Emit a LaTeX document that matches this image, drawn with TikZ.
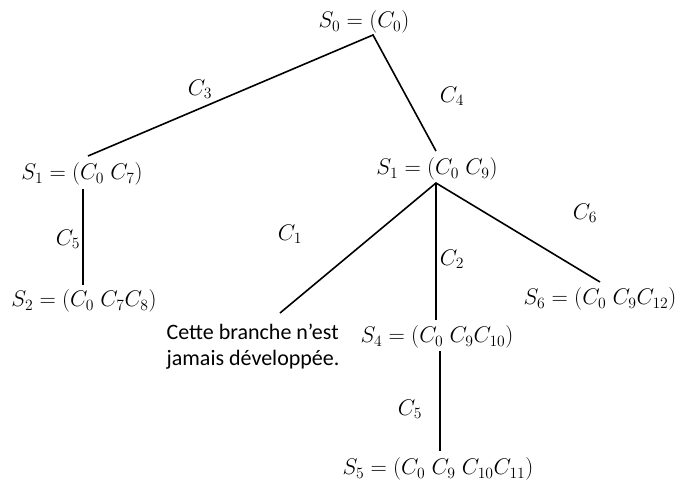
\documentclass[tikz,border=0pt]{standalone}
\usepackage{graphicx}
\usepackage{fontspec}
\newfontfamily\carlito{Carlito}
\newcommand\mth[1]{\scalebox{1.09}{$#1$}}
\begin{document}
\begin{tikzpicture}[x=1pt,y=-1pt,
  st/.style={inner sep=0pt, font=\fontsize{20.74}{25}\selectfont},
  lab/.style={inner sep=0pt, font=\fontsize{20.74}{25}\selectfont},
  note/.style={inner sep=0pt, align=left, font=\carlito\fontsize{22}{26}\selectfont},
  edge/.style={line width=1.6pt}]
\useasboundingbox (0,0) rectangle (675,482);
% states
\node[st] (s0) at (364,22) {\mth{S_0=(C_0)}};
\node[st] (s1a) at (82,174) {\mth{S_1=(C_0\;C_7)}};
\node[st] (s2) at (84,301) {\mth{S_2=(C_0\;C_7C_8)}};
\node[st] (s1b) at (437,169) {\mth{S_1=(C_0\;C_9)}};
\node[st] (s4) at (437,337) {\mth{S_4=(C_0\;C_9C_{10})}};
\node[st] (s5) at (438,469) {\mth{S_5=(C_0\;C_9\;C_{10}C_{11})}};
\node[st] (s6) at (600,299) {\mth{S_6=(C_0\;C_9C_{12})}};
\node[note] (nb) at (253,347) {Cette branche n’est\\jamais développée.};
% edge labels
\node[lab] (c3) at (200,89) {\mth{C_3}};
\node[lab] (c4) at (452,96) {\mth{C_4}};
\node[lab] (c5a) at (68,239) {\mth{C_5}};
\node[lab] (c1) at (290,234) {\mth{C_1}};
\node[lab] (c2) at (452,259) {\mth{C_2}};
\node[lab] (c6) at (585,213) {\mth{C_6}};
\node[lab] (c5b) at (410,409) {\mth{C_5}};
% connector ends
\coordinate (s0b) at (373,35);
\coordinate (s1at) at (88,156);
\coordinate (s1ab) at (83,189);
\coordinate (s2t) at (83,285);
\coordinate (s1bt) at (436,151);
\coordinate (s1bb) at (436,183);
\coordinate (nbt) at (280,313);
\coordinate (s4t) at (436,320);
\coordinate (s4b) at (440,351);
\coordinate (s5t) at (440,451);
\coordinate (s6t) at (600,282);
% connectors
\draw[edge] (s1at) -- (s0b) -- (s1bt);
\draw[edge] (s1ab) -- (s2t);
\draw[edge] (nbt) -- (s1bb) -- (s6t);
\draw[edge] (s1bb) -- (s4t);
\draw[edge] (s4b) -- (s5t);
\end{tikzpicture}
\end{document}
